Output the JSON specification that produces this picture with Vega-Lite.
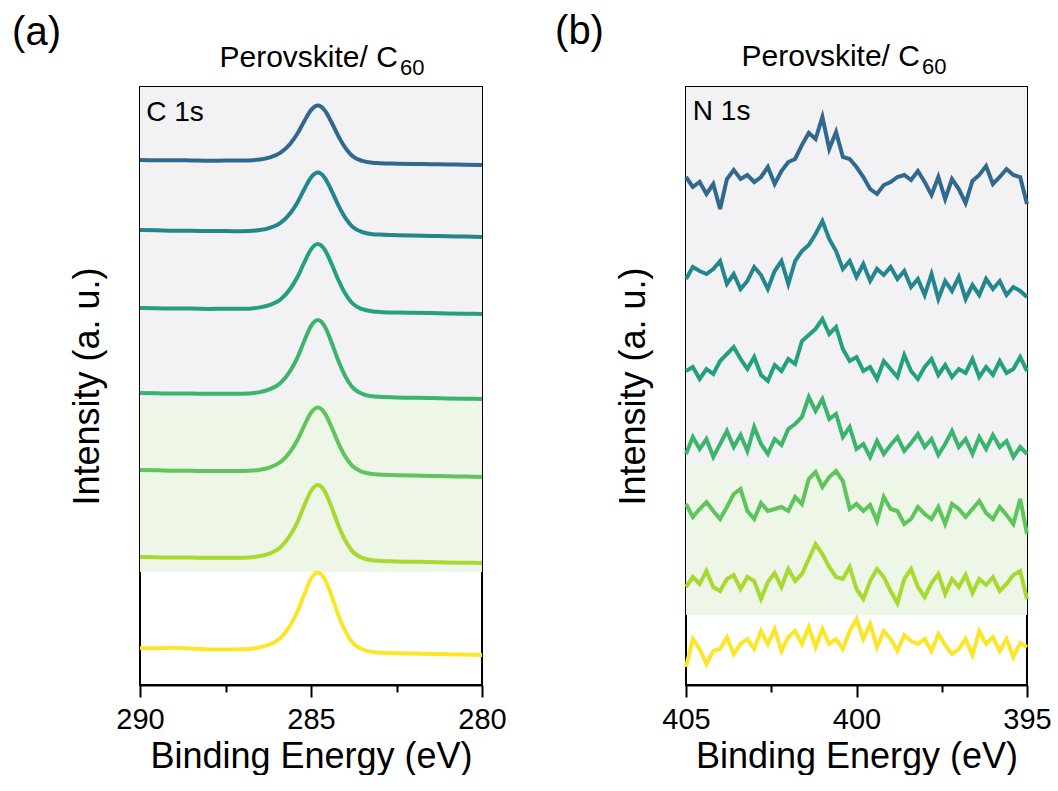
{
  "$schema": "https://vega.github.io/schema/vega-lite/v6.json",
  "padding": {"left": 11, "top": 10, "right": 0, "bottom": 0},
  "background": "white",
  "config": {
    "font": "Liberation Sans",
    "view": {"stroke": "black", "strokeWidth": 2},
    "axis": {"grid": false, "domainColor": "black", "domainWidth": 2, "tickColor": "black", "tickWidth": 2, "labelColor": "black", "titleColor": "black", "labelFontSize": 29, "titleFontSize": 36, "titleFontWeight": "normal", "labelFont": "Liberation Sans", "titleFont": "Liberation Sans"},
    "text": {"font": "Liberation Sans", "color": "black"}
  },
  "spacing": 204,
  "bounds": "flush",
  "datasets": {
    "bg_a": [{"region": "gray", "lo": 285, "hi": 598}, {"region": "green", "lo": 113, "hi": 285}],
    "bg_b": [{"region": "gray", "lo": 220, "hi": 598}, {"region": "green", "lo": 70, "hi": 220}],
    "c1s": [
      {"s":"1","e":290,"i":525},{"s":"1","e":289.5,"i":524.8},{"s":"1","e":289,"i":524.8},{"s":"1","e":288.5,"i":524.5},{"s":"1","e":288,"i":524.3},{"s":"1","e":287.5,"i":524.4},{"s":"1","e":287,"i":524.4},{"s":"1","e":286.5,"i":525.5},{"s":"1","e":286.2,"i":527.7},{"s":"1","e":285.9,"i":532.1},{"s":"1","e":285.6,"i":541.6},{"s":"1","e":285.4,"i":551.2},{"s":"1","e":285.2,"i":563.6},{"s":"1","e":285.0,"i":574.9},{"s":"1","e":284.8,"i":579.4},{"s":"1","e":284.6,"i":574.7},{"s":"1","e":284.4,"i":562.7},{"s":"1","e":284.2,"i":548.9},{"s":"1","e":284.0,"i":537.4},{"s":"1","e":283.8,"i":529.3},{"s":"1","e":283.5,"i":524.1},{"s":"1","e":283.2,"i":522.2},{"s":"1","e":283,"i":521.8},{"s":"1","e":282.5,"i":521.3},{"s":"1","e":282,"i":521},{"s":"1","e":281.5,"i":520.8},{"s":"1","e":281,"i":520.5},{"s":"1","e":280.5,"i":520.3},{"s":"1","e":280,"i":520},
      {"s":"2","e":290,"i":455},{"s":"2","e":289.5,"i":454.7},{"s":"2","e":289,"i":454.3},{"s":"2","e":288.5,"i":454.3},{"s":"2","e":288,"i":453.9},{"s":"2","e":287.5,"i":453.9},{"s":"2","e":287,"i":453.8},{"s":"2","e":286.5,"i":455},{"s":"2","e":286.2,"i":457.2},{"s":"2","e":285.9,"i":461.9},{"s":"2","e":285.6,"i":472},{"s":"2","e":285.4,"i":482.3},{"s":"2","e":285.2,"i":495.5},{"s":"2","e":285.0,"i":507.6},{"s":"2","e":284.8,"i":512.4},{"s":"2","e":284.6,"i":507.3},{"s":"2","e":284.4,"i":494.4},{"s":"2","e":284.2,"i":479.6},{"s":"2","e":284.0,"i":467.3},{"s":"2","e":283.8,"i":458.6},{"s":"2","e":283.5,"i":452.9},{"s":"2","e":283.2,"i":450.8},{"s":"2","e":283,"i":450.4},{"s":"2","e":282.5,"i":449.8},{"s":"2","e":282,"i":449.4},{"s":"2","e":281.5,"i":449.1},{"s":"2","e":281,"i":448.7},{"s":"2","e":280.5,"i":448.4},{"s":"2","e":280,"i":448},
      {"s":"3","e":290,"i":377},{"s":"3","e":289.5,"i":376.7},{"s":"3","e":289,"i":376.4},{"s":"3","e":288.5,"i":376.4},{"s":"3","e":288,"i":376.1},{"s":"3","e":287.5,"i":376.2},{"s":"3","e":287,"i":376.2},{"s":"3","e":286.5,"i":377.6},{"s":"3","e":286.2,"i":380.1},{"s":"3","e":285.9,"i":385.2},{"s":"3","e":285.6,"i":396.5},{"s":"3","e":285.4,"i":407.7},{"s":"3","e":285.2,"i":422.3},{"s":"3","e":285.0,"i":435.6},{"s":"3","e":284.8,"i":440.9},{"s":"3","e":284.6,"i":435.4},{"s":"3","e":284.4,"i":421.2},{"s":"3","e":284.2,"i":405},{"s":"3","e":284.0,"i":391.5},{"s":"3","e":283.8,"i":382},{"s":"3","e":283.5,"i":375.8},{"s":"3","e":283.2,"i":373.6},{"s":"3","e":283,"i":373.1},{"s":"3","e":282.5,"i":372.5},{"s":"3","e":282,"i":372.2},{"s":"3","e":281.5,"i":371.9},{"s":"3","e":281,"i":371.6},{"s":"3","e":280.5,"i":371.3},{"s":"3","e":280,"i":371},
      {"s":"4","e":290,"i":292},{"s":"4","e":289.5,"i":291.7},{"s":"4","e":289,"i":291.4},{"s":"4","e":288.5,"i":291.5},{"s":"4","e":288,"i":291.2},{"s":"4","e":287.5,"i":291.3},{"s":"4","e":287,"i":291.3},{"s":"4","e":286.5,"i":292.9},{"s":"4","e":286.2,"i":295.8},{"s":"4","e":285.9,"i":301.7},{"s":"4","e":285.6,"i":314.5},{"s":"4","e":285.4,"i":327.2},{"s":"4","e":285.2,"i":343.8},{"s":"4","e":285.0,"i":358.9},{"s":"4","e":284.8,"i":364.9},{"s":"4","e":284.6,"i":358.7},{"s":"4","e":284.4,"i":342.6},{"s":"4","e":284.2,"i":324.2},{"s":"4","e":284.0,"i":308.9},{"s":"4","e":283.8,"i":298.2},{"s":"4","e":283.5,"i":291.1},{"s":"4","e":283.2,"i":288.7},{"s":"4","e":283,"i":288.2},{"s":"4","e":282.5,"i":287.5},{"s":"4","e":282,"i":287.2},{"s":"4","e":281.5,"i":286.9},{"s":"4","e":281,"i":286.6},{"s":"4","e":280.5,"i":286.3},{"s":"4","e":280,"i":286},
      {"s":"5","e":290,"i":215},{"s":"5","e":289.5,"i":214.7},{"s":"5","e":289,"i":214.3},{"s":"5","e":288.5,"i":214.3},{"s":"5","e":288,"i":213.9},{"s":"5","e":287.5,"i":213.9},{"s":"5","e":287,"i":213.9},{"s":"5","e":286.5,"i":215.2},{"s":"5","e":286.2,"i":217.6},{"s":"5","e":285.9,"i":222.7},{"s":"5","e":285.6,"i":233.7},{"s":"5","e":285.4,"i":244.8},{"s":"5","e":285.2,"i":259.1},{"s":"5","e":285.0,"i":272.2},{"s":"5","e":284.8,"i":277.4},{"s":"5","e":284.6,"i":271.9},{"s":"5","e":284.4,"i":258},{"s":"5","e":284.2,"i":241.9},{"s":"5","e":284.0,"i":228.6},{"s":"5","e":283.8,"i":219.3},{"s":"5","e":283.5,"i":213.1},{"s":"5","e":283.2,"i":210.9},{"s":"5","e":283,"i":210.4},{"s":"5","e":282.5,"i":209.8},{"s":"5","e":282,"i":209.4},{"s":"5","e":281.5,"i":209.1},{"s":"5","e":281,"i":208.7},{"s":"5","e":280.5,"i":208.4},{"s":"5","e":280,"i":208},
      {"s":"6","e":290,"i":128},{"s":"6","e":289.5,"i":127.7},{"s":"6","e":289,"i":127.4},{"s":"6","e":288.5,"i":127.5},{"s":"6","e":288,"i":127.2},{"s":"6","e":287.5,"i":127.3},{"s":"6","e":287,"i":127.3},{"s":"6","e":286.5,"i":128.9},{"s":"6","e":286.2,"i":131.7},{"s":"6","e":285.9,"i":137.5},{"s":"6","e":285.6,"i":150.2},{"s":"6","e":285.4,"i":162.7},{"s":"6","e":285.2,"i":179.1},{"s":"6","e":285.0,"i":194},{"s":"6","e":284.8,"i":199.9},{"s":"6","e":284.6,"i":193.8},{"s":"6","e":284.4,"i":177.9},{"s":"6","e":284.2,"i":159.8},{"s":"6","e":284.0,"i":144.7},{"s":"6","e":283.8,"i":134.1},{"s":"6","e":283.5,"i":127.1},{"s":"6","e":283.2,"i":124.7},{"s":"6","e":283,"i":124.2},{"s":"6","e":282.5,"i":123.5},{"s":"6","e":282,"i":123.2},{"s":"6","e":281.5,"i":122.9},{"s":"6","e":281,"i":122.6},{"s":"6","e":280.5,"i":122.3},{"s":"6","e":280,"i":122},
      {"s":"7","e":290,"i":37},{"s":"7","e":289.5,"i":36.7},{"s":"7","e":289,"i":37.3},{"s":"7","e":288.5,"i":36.5},{"s":"7","e":288,"i":35.6},{"s":"7","e":287.5,"i":35.5},{"s":"7","e":287,"i":35.7},{"s":"7","e":286.5,"i":37.8},{"s":"7","e":286.2,"i":40.6},{"s":"7","e":285.9,"i":46.7},{"s":"7","e":285.6,"i":60},{"s":"7","e":285.4,"i":73.3},{"s":"7","e":285.2,"i":90.5},{"s":"7","e":285.0,"i":106.2},{"s":"7","e":284.8,"i":112.4},{"s":"7","e":284.6,"i":105.9},{"s":"7","e":284.4,"i":89.2},{"s":"7","e":284.2,"i":70},{"s":"7","e":284.0,"i":54.1},{"s":"7","e":283.8,"i":43},{"s":"7","e":283.5,"i":35.7},{"s":"7","e":283.2,"i":33},{"s":"7","e":283,"i":32.5},{"s":"7","e":282.5,"i":31.8},{"s":"7","e":282,"i":31.4},{"s":"7","e":281.5,"i":31.1},{"s":"7","e":281,"i":30.7},{"s":"7","e":280.5,"i":30.4},{"s":"7","e":280,"i":30}
    ],
    "n1s": [
      {"s":"1","e":405.0,"i":508},{"s":"1","e":404.8,"i":498},{"s":"1","e":404.6,"i":503},{"s":"1","e":404.4,"i":491},{"s":"1","e":404.2,"i":501},{"s":"1","e":404.0,"i":476},{"s":"1","e":403.8,"i":506},{"s":"1","e":403.6,"i":515},{"s":"1","e":403.4,"i":506},{"s":"1","e":403.2,"i":510},{"s":"1","e":403.0,"i":503},{"s":"1","e":402.8,"i":508},{"s":"1","e":402.6,"i":518},{"s":"1","e":402.4,"i":501},{"s":"1","e":402.2,"i":514},{"s":"1","e":402.0,"i":523},{"s":"1","e":401.8,"i":526},{"s":"1","e":401.6,"i":540},{"s":"1","e":401.4,"i":552},{"s":"1","e":401.2,"i":546},{"s":"1","e":401.0,"i":568},{"s":"1","e":400.8,"i":536},{"s":"1","e":400.6,"i":553},{"s":"1","e":400.4,"i":528},{"s":"1","e":400.2,"i":526},{"s":"1","e":400.0,"i":518},{"s":"1","e":399.8,"i":508},{"s":"1","e":399.6,"i":496},{"s":"1","e":399.4,"i":491},{"s":"1","e":399.2,"i":500},{"s":"1","e":399.0,"i":503},{"s":"1","e":398.8,"i":508},{"s":"1","e":398.6,"i":510},{"s":"1","e":398.4,"i":505},{"s":"1","e":398.2,"i":514},{"s":"1","e":398.0,"i":503},{"s":"1","e":397.8,"i":490},{"s":"1","e":397.6,"i":508},{"s":"1","e":397.4,"i":486},{"s":"1","e":397.2,"i":506},{"s":"1","e":397.0,"i":496},{"s":"1","e":396.8,"i":482},{"s":"1","e":396.6,"i":504},{"s":"1","e":396.4,"i":510},{"s":"1","e":396.2,"i":519},{"s":"1","e":396.0,"i":501},{"s":"1","e":395.8,"i":508},{"s":"1","e":395.6,"i":516},{"s":"1","e":395.4,"i":510},{"s":"1","e":395.2,"i":508},{"s":"1","e":395.0,"i":481},
      {"s":"2","e":405.0,"i":406},{"s":"2","e":404.8,"i":418},{"s":"2","e":404.6,"i":414},{"s":"2","e":404.4,"i":411},{"s":"2","e":404.2,"i":416},{"s":"2","e":404.0,"i":424},{"s":"2","e":403.8,"i":401},{"s":"2","e":403.6,"i":411},{"s":"2","e":403.4,"i":396},{"s":"2","e":403.2,"i":404},{"s":"2","e":403.0,"i":418},{"s":"2","e":402.8,"i":410},{"s":"2","e":402.6,"i":396},{"s":"2","e":402.4,"i":414},{"s":"2","e":402.2,"i":424},{"s":"2","e":402.0,"i":401},{"s":"2","e":401.8,"i":424},{"s":"2","e":401.6,"i":434},{"s":"2","e":401.4,"i":440},{"s":"2","e":401.2,"i":451},{"s":"2","e":401.0,"i":464},{"s":"2","e":400.8,"i":446},{"s":"2","e":400.6,"i":434},{"s":"2","e":400.4,"i":416},{"s":"2","e":400.2,"i":424},{"s":"2","e":400.0,"i":408},{"s":"2","e":399.8,"i":421},{"s":"2","e":399.6,"i":404},{"s":"2","e":399.4,"i":416},{"s":"2","e":399.2,"i":410},{"s":"2","e":399.0,"i":418},{"s":"2","e":398.8,"i":406},{"s":"2","e":398.6,"i":414},{"s":"2","e":398.4,"i":398},{"s":"2","e":398.2,"i":406},{"s":"2","e":398.0,"i":390},{"s":"2","e":397.8,"i":411},{"s":"2","e":397.6,"i":386},{"s":"2","e":397.4,"i":404},{"s":"2","e":397.2,"i":394},{"s":"2","e":397.0,"i":408},{"s":"2","e":396.8,"i":386},{"s":"2","e":396.6,"i":400},{"s":"2","e":396.4,"i":390},{"s":"2","e":396.2,"i":406},{"s":"2","e":396.0,"i":396},{"s":"2","e":395.8,"i":404},{"s":"2","e":395.6,"i":390},{"s":"2","e":395.4,"i":398},{"s":"2","e":395.2,"i":394},{"s":"2","e":395.0,"i":388},
      {"s":"3","e":405.0,"i":314},{"s":"3","e":404.8,"i":318},{"s":"3","e":404.6,"i":306},{"s":"3","e":404.4,"i":316},{"s":"3","e":404.2,"i":311},{"s":"3","e":404.0,"i":324},{"s":"3","e":403.8,"i":331},{"s":"3","e":403.6,"i":338},{"s":"3","e":403.4,"i":326},{"s":"3","e":403.2,"i":316},{"s":"3","e":403.0,"i":328},{"s":"3","e":402.8,"i":310},{"s":"3","e":402.6,"i":304},{"s":"3","e":402.4,"i":320},{"s":"3","e":402.2,"i":314},{"s":"3","e":402.0,"i":326},{"s":"3","e":401.8,"i":321},{"s":"3","e":401.6,"i":344},{"s":"3","e":401.4,"i":350},{"s":"3","e":401.2,"i":356},{"s":"3","e":401.0,"i":366},{"s":"3","e":400.8,"i":351},{"s":"3","e":400.6,"i":358},{"s":"3","e":400.4,"i":336},{"s":"3","e":400.2,"i":324},{"s":"3","e":400.0,"i":328},{"s":"3","e":399.8,"i":314},{"s":"3","e":399.6,"i":318},{"s":"3","e":399.4,"i":306},{"s":"3","e":399.2,"i":324},{"s":"3","e":399.0,"i":316},{"s":"3","e":398.8,"i":308},{"s":"3","e":398.6,"i":330},{"s":"3","e":398.4,"i":314},{"s":"3","e":398.2,"i":306},{"s":"3","e":398.0,"i":318},{"s":"3","e":397.8,"i":326},{"s":"3","e":397.6,"i":310},{"s":"3","e":397.4,"i":320},{"s":"3","e":397.2,"i":308},{"s":"3","e":397.0,"i":316},{"s":"3","e":396.8,"i":312},{"s":"3","e":396.6,"i":326},{"s":"3","e":396.4,"i":308},{"s":"3","e":396.2,"i":318},{"s":"3","e":396.0,"i":310},{"s":"3","e":395.8,"i":324},{"s":"3","e":395.6,"i":312},{"s":"3","e":395.4,"i":316},{"s":"3","e":395.2,"i":328},{"s":"3","e":395.0,"i":314},
      {"s":"4","e":405.0,"i":231},{"s":"4","e":404.8,"i":248},{"s":"4","e":404.6,"i":236},{"s":"4","e":404.4,"i":246},{"s":"4","e":404.2,"i":228},{"s":"4","e":404.0,"i":241},{"s":"4","e":403.8,"i":254},{"s":"4","e":403.6,"i":238},{"s":"4","e":403.4,"i":250},{"s":"4","e":403.2,"i":234},{"s":"4","e":403.0,"i":258},{"s":"4","e":402.8,"i":241},{"s":"4","e":402.6,"i":231},{"s":"4","e":402.4,"i":246},{"s":"4","e":402.2,"i":240},{"s":"4","e":402.0,"i":256},{"s":"4","e":401.8,"i":261},{"s":"4","e":401.6,"i":268},{"s":"4","e":401.4,"i":288},{"s":"4","e":401.2,"i":274},{"s":"4","e":401.0,"i":286},{"s":"4","e":400.8,"i":266},{"s":"4","e":400.6,"i":271},{"s":"4","e":400.4,"i":248},{"s":"4","e":400.2,"i":258},{"s":"4","e":400.0,"i":236},{"s":"4","e":399.8,"i":241},{"s":"4","e":399.6,"i":228},{"s":"4","e":399.4,"i":244},{"s":"4","e":399.2,"i":231},{"s":"4","e":399.0,"i":240},{"s":"4","e":398.8,"i":248},{"s":"4","e":398.6,"i":234},{"s":"4","e":398.4,"i":242},{"s":"4","e":398.2,"i":251},{"s":"4","e":398.0,"i":238},{"s":"4","e":397.8,"i":246},{"s":"4","e":397.6,"i":230},{"s":"4","e":397.4,"i":241},{"s":"4","e":397.2,"i":254},{"s":"4","e":397.0,"i":238},{"s":"4","e":396.8,"i":246},{"s":"4","e":396.6,"i":231},{"s":"4","e":396.4,"i":248},{"s":"4","e":396.2,"i":236},{"s":"4","e":396.0,"i":250},{"s":"4","e":395.8,"i":238},{"s":"4","e":395.6,"i":244},{"s":"4","e":395.4,"i":228},{"s":"4","e":395.2,"i":238},{"s":"4","e":395.0,"i":231},
      {"s":"5","e":405.0,"i":181},{"s":"5","e":404.8,"i":168},{"s":"5","e":404.6,"i":176},{"s":"5","e":404.4,"i":183},{"s":"5","e":404.2,"i":174},{"s":"5","e":404.0,"i":166},{"s":"5","e":403.8,"i":178},{"s":"5","e":403.6,"i":191},{"s":"5","e":403.4,"i":196},{"s":"5","e":403.2,"i":174},{"s":"5","e":403.0,"i":166},{"s":"5","e":402.8,"i":182},{"s":"5","e":402.6,"i":174},{"s":"5","e":402.4,"i":176},{"s":"5","e":402.2,"i":178},{"s":"5","e":402.0,"i":174},{"s":"5","e":401.8,"i":188},{"s":"5","e":401.6,"i":181},{"s":"5","e":401.4,"i":206},{"s":"5","e":401.2,"i":213},{"s":"5","e":401.0,"i":198},{"s":"5","e":400.8,"i":208},{"s":"5","e":400.6,"i":214},{"s":"5","e":400.4,"i":204},{"s":"5","e":400.2,"i":176},{"s":"5","e":400.0,"i":181},{"s":"5","e":399.8,"i":174},{"s":"5","e":399.6,"i":180},{"s":"5","e":399.4,"i":164},{"s":"5","e":399.2,"i":188},{"s":"5","e":399.0,"i":176},{"s":"5","e":398.8,"i":174},{"s":"5","e":398.6,"i":161},{"s":"5","e":398.4,"i":166},{"s":"5","e":398.2,"i":178},{"s":"5","e":398.0,"i":171},{"s":"5","e":397.8,"i":166},{"s":"5","e":397.6,"i":178},{"s":"5","e":397.4,"i":161},{"s":"5","e":397.2,"i":181},{"s":"5","e":397.0,"i":176},{"s":"5","e":396.8,"i":168},{"s":"5","e":396.6,"i":176},{"s":"5","e":396.4,"i":184},{"s":"5","e":396.2,"i":172},{"s":"5","e":396.0,"i":166},{"s":"5","e":395.8,"i":178},{"s":"5","e":395.6,"i":170},{"s":"5","e":395.4,"i":161},{"s":"5","e":395.2,"i":186},{"s":"5","e":395.0,"i":151},
      {"s":"6","e":405.0,"i":98},{"s":"6","e":404.8,"i":108},{"s":"6","e":404.6,"i":101},{"s":"6","e":404.4,"i":114},{"s":"6","e":404.2,"i":98},{"s":"6","e":404.0,"i":94},{"s":"6","e":403.8,"i":106},{"s":"6","e":403.6,"i":110},{"s":"6","e":403.4,"i":96},{"s":"6","e":403.2,"i":108},{"s":"6","e":403.0,"i":104},{"s":"6","e":402.8,"i":86},{"s":"6","e":402.6,"i":103},{"s":"6","e":402.4,"i":112},{"s":"6","e":402.2,"i":98},{"s":"6","e":402.0,"i":116},{"s":"6","e":401.8,"i":104},{"s":"6","e":401.6,"i":111},{"s":"6","e":401.4,"i":126},{"s":"6","e":401.2,"i":141},{"s":"6","e":401.0,"i":131},{"s":"6","e":400.8,"i":118},{"s":"6","e":400.6,"i":108},{"s":"6","e":400.4,"i":106},{"s":"6","e":400.2,"i":118},{"s":"6","e":400.0,"i":96},{"s":"6","e":399.8,"i":86},{"s":"6","e":399.6,"i":104},{"s":"6","e":399.4,"i":116},{"s":"6","e":399.2,"i":108},{"s":"6","e":399.0,"i":94},{"s":"6","e":398.8,"i":82},{"s":"6","e":398.6,"i":106},{"s":"6","e":398.4,"i":116},{"s":"6","e":398.2,"i":98},{"s":"6","e":398.0,"i":88},{"s":"6","e":397.8,"i":102},{"s":"6","e":397.6,"i":111},{"s":"6","e":397.4,"i":91},{"s":"6","e":397.2,"i":106},{"s":"6","e":397.0,"i":98},{"s":"6","e":396.8,"i":110},{"s":"6","e":396.6,"i":92},{"s":"6","e":396.4,"i":106},{"s":"6","e":396.2,"i":100},{"s":"6","e":396.0,"i":108},{"s":"6","e":395.8,"i":94},{"s":"6","e":395.6,"i":101},{"s":"6","e":395.4,"i":110},{"s":"6","e":395.2,"i":114},{"s":"6","e":395.0,"i":86},
      {"s":"7","e":405.0,"i":18},{"s":"7","e":404.8,"i":46},{"s":"7","e":404.6,"i":36},{"s":"7","e":404.4,"i":21},{"s":"7","e":404.2,"i":34},{"s":"7","e":404.0,"i":36},{"s":"7","e":403.8,"i":48},{"s":"7","e":403.6,"i":31},{"s":"7","e":403.4,"i":41},{"s":"7","e":403.2,"i":46},{"s":"7","e":403.0,"i":36},{"s":"7","e":402.8,"i":54},{"s":"7","e":402.6,"i":41},{"s":"7","e":402.4,"i":56},{"s":"7","e":402.2,"i":34},{"s":"7","e":402.0,"i":48},{"s":"7","e":401.8,"i":54},{"s":"7","e":401.6,"i":41},{"s":"7","e":401.4,"i":58},{"s":"7","e":401.2,"i":38},{"s":"7","e":401.0,"i":56},{"s":"7","e":400.8,"i":41},{"s":"7","e":400.6,"i":46},{"s":"7","e":400.4,"i":36},{"s":"7","e":400.2,"i":54},{"s":"7","e":400.0,"i":66},{"s":"7","e":399.8,"i":46},{"s":"7","e":399.6,"i":61},{"s":"7","e":399.4,"i":38},{"s":"7","e":399.2,"i":54},{"s":"7","e":399.0,"i":46},{"s":"7","e":398.8,"i":34},{"s":"7","e":398.6,"i":50},{"s":"7","e":398.4,"i":44},{"s":"7","e":398.2,"i":41},{"s":"7","e":398.0,"i":46},{"s":"7","e":397.8,"i":34},{"s":"7","e":397.6,"i":51},{"s":"7","e":397.4,"i":40},{"s":"7","e":397.2,"i":31},{"s":"7","e":397.0,"i":36},{"s":"7","e":396.8,"i":46},{"s":"7","e":396.6,"i":30},{"s":"7","e":396.4,"i":54},{"s":"7","e":396.2,"i":41},{"s":"7","e":396.0,"i":48},{"s":"7","e":395.8,"i":34},{"s":"7","e":395.6,"i":46},{"s":"7","e":395.4,"i":28},{"s":"7","e":395.2,"i":42},{"s":"7","e":395.0,"i":38}
    ]
  },
  "hconcat": [
    {
      "width": 342,
      "height": 598,
      "layer": [
        {
          "data": {"name": "bg_a"},
          "mark": {"type": "rect"},
          "encoding": {
            "y": {"field": "lo", "type": "quantitative", "scale": {"domain": [0, 598], "nice": false, "zero": false}, "axis": {"title": "Intensity (a. u.)", "ticks": false, "labels": false, "domain": false, "titlePadding": 34}},
            "y2": {"field": "hi"},
            "fill": {"field": "region", "type": "nominal", "scale": {"domain": ["gray", "green"], "range": ["#f2f2f5", "#eef6e8"]}, "legend": null}
          }
        },
        {
          "data": {"name": "c1s"},
          "mark": {"type": "line", "strokeWidth": 4, "interpolate": "monotone"},
          "encoding": {
            "x": {"field": "e", "type": "quantitative", "scale": {"domain": [290, 280], "nice": false, "zero": false},
                  "axis": {"title": "Binding Energy (eV)", "values": [290, 287.5, 285, 282.5, 280], "labelExpr": "datum.value % 5 == 0 ? datum.label : ''", "tickSize": {"condition": {"test": "datum.value % 5 != 0", "value": 7}, "value": 12}, "labelPadding": 8, "titlePadding": 5, "labelFlush": false}},
            "y": {"field": "i", "type": "quantitative"},
            "stroke": {"field": "s", "type": "nominal", "scale": {"domain": ["1","2","3","4","5","6","7"], "range": ["#31688e", "#23868d", "#22a07f", "#3bb56b", "#5ec45c", "#a8d92f", "#fbe62a"]}, "legend": null},
            "order": {"field": "e", "type": "quantitative"}
          }
        },
        {
          "data": {"values": [{}]},
          "mark": {"type": "text", "text": "C 1s", "fontSize": 28, "align": "left", "baseline": "alphabetic"},
          "encoding": {"x": {"datum": 289.82}, "y": {"datum": 564}}
        },
        {
          "data": {"values": [{}]},
          "mark": {"type": "text", "text": "Perovskite/ C", "fontSize": 30, "align": "right", "baseline": "alphabetic"},
          "encoding": {"x": {"datum": 282.46}, "y": {"datum": 618}}
        },
        {
          "data": {"values": [{}]},
          "mark": {"type": "text", "text": "60", "fontSize": 22, "align": "left", "baseline": "alphabetic"},
          "encoding": {"x": {"datum": 282.4}, "y": {"datum": 610}}
        },
        {
          "data": {"values": [{}]},
          "mark": {"type": "text", "text": "(a)", "fontSize": 40, "align": "left", "baseline": "alphabetic"},
          "encoding": {"x": {"datum": 293.74}, "y": {"datum": 640}}
        }
      ]
    },
    {
      "width": 341,
      "height": 598,
      "layer": [
        {
          "data": {"name": "bg_b"},
          "mark": {"type": "rect"},
          "encoding": {
            "y": {"field": "lo", "type": "quantitative", "scale": {"domain": [0, 598], "nice": false, "zero": false}, "axis": {"title": "Intensity (a. u.)", "ticks": false, "labels": false, "domain": false, "titlePadding": 34}},
            "y2": {"field": "hi"},
            "fill": {"field": "region", "type": "nominal", "scale": {"domain": ["gray", "green"], "range": ["#f2f2f5", "#eef6e8"]}, "legend": null}
          }
        },
        {
          "data": {"name": "n1s"},
          "mark": {"type": "line", "strokeWidth": 4},
          "encoding": {
            "x": {"field": "e", "type": "quantitative", "scale": {"domain": [405, 395], "nice": false, "zero": false},
                  "axis": {"title": "Binding Energy (eV)", "values": [405, 402.5, 400, 397.5, 395], "labelExpr": "datum.value % 5 == 0 ? datum.label : ''", "tickSize": {"condition": {"test": "datum.value % 5 != 0", "value": 7}, "value": 12}, "labelPadding": 8, "titlePadding": 5, "labelFlush": false}},
            "y": {"field": "i", "type": "quantitative"},
            "stroke": {"field": "s", "type": "nominal", "scale": {"domain": ["1","2","3","4","5","6","7"], "range": ["#31688e", "#23868d", "#22a07f", "#3bb56b", "#5ec45c", "#a8d92f", "#fbe62a"]}, "legend": null},
            "order": {"field": "e", "type": "quantitative"}
          }
        },
        {
          "data": {"values": [{}]},
          "mark": {"type": "text", "text": "N 1s", "fontSize": 28, "align": "left", "baseline": "alphabetic"},
          "encoding": {"x": {"datum": 404.8}, "y": {"datum": 565}}
        },
        {
          "data": {"values": [{}]},
          "mark": {"type": "text", "text": "Perovskite/ C", "fontSize": 30, "align": "right", "baseline": "alphabetic"},
          "encoding": {"x": {"datum": 398.14}, "y": {"datum": 619}}
        },
        {
          "data": {"values": [{}]},
          "mark": {"type": "text", "text": "60", "fontSize": 22, "align": "left", "baseline": "alphabetic"},
          "encoding": {"x": {"datum": 398.08}, "y": {"datum": 611}}
        },
        {
          "data": {"values": [{}]},
          "mark": {"type": "text", "text": "(b)", "fontSize": 40, "align": "left", "baseline": "alphabetic"},
          "encoding": {"x": {"datum": 408.84}, "y": {"datum": 641}}
        }
      ]
    }
  ]
}
